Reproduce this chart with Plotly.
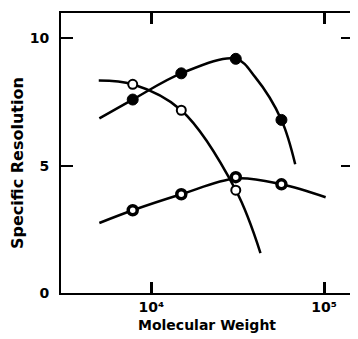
import plotly.graph_objects as go

# Curve A (filled circles)
a_curve_mw = [5000, 7800, 14900, 30800, 40000, 56600, 68000]
a_curve_sr = [6.86, 7.6, 8.63, 9.2, 8.47, 6.8, 5.06]
a_pts_mw = [7800, 14900, 30800, 56600]
a_pts_sr = [7.6, 8.63, 9.2, 6.8]

# Curve B (open circles)
b_curve_mw = [4960, 7800, 14900, 30800, 42800]
b_curve_sr = [8.35, 8.2, 7.18, 4.04, 1.57]
b_pts_mw = [7800, 14900, 30800]
b_pts_sr = [8.2, 7.18, 4.04]

# Curve C (ring circles)
c_curve_mw = [5000, 7800, 14900, 30800, 56600, 102000]
c_curve_sr = [2.75, 3.25, 3.88, 4.5, 4.27, 3.76]
c_pts_mw = [7800, 14900, 30800, 56600]
c_pts_sr = [3.25, 3.88, 4.55, 4.27]

x_tickvals = [1e4, 1e5]
x_ticktext = ["10⁴", "10⁵"]
y_tickvals = [0, 5, 10]
y_ticktext = ["0", "5", "10"]

fig = go.Figure()
line = dict(color="black", width=2.5, shape="spline", smoothing=1.0)
for mw, sr in [(a_curve_mw, a_curve_sr), (b_curve_mw, b_curve_sr), (c_curve_mw, c_curve_sr)]:
    fig.add_trace(go.Scatter(x=mw, y=sr, mode="lines", line=line, hoverinfo="skip"))

fig.add_trace(go.Scatter(x=a_pts_mw, y=a_pts_sr, mode="markers",
                         marker=dict(symbol="circle", size=11, color="black",
                                     line=dict(color="black", width=1))))
fig.add_trace(go.Scatter(x=b_pts_mw, y=b_pts_sr, mode="markers",
                         marker=dict(symbol="circle", size=9, color="white",
                                     line=dict(color="black", width=2))))
fig.add_trace(go.Scatter(x=c_pts_mw, y=c_pts_sr, mode="markers",
                         marker=dict(symbol="circle", size=9, color="white",
                                     line=dict(color="black", width=3.5))))

font = dict(family="DejaVu Sans, sans-serif", size=14, color="black", weight="bold")
xtfont = dict(family="DejaVu Sans, sans-serif", size=14, color="black", weight="bold")
ytfont = dict(family="DejaVu Sans, sans-serif", size=16, color="black", weight="bold")

# page body adds an 8px margin, so the figure is slightly smaller than the window
fig.update_layout(
    width=350, height=331,
    margin=dict(l=53, r=3, t=4, b=46),
    paper_bgcolor="white", plot_bgcolor="white",
    showlegend=False,
    font=font,
    xaxis=dict(type="log", range=[3.477, 5.167], tickvals=x_tickvals, ticktext=x_ticktext,
               ticks="inside", ticklen=11, tickwidth=2.5, tickcolor="black",
               showline=True, linecolor="black", linewidth=2, mirror="ticks",
               showgrid=False, zeroline=False, ticklabelstandoff=0,
               tickfont=dict(family="DejaVu Sans, sans-serif", size=14, color="black", weight="bold")),
    yaxis=dict(range=[0, 11.0], tickvals=y_tickvals, ticktext=y_ticktext,
               ticks="inside", ticklen=12, tickwidth=2, tickcolor="black",
               showline=True, linecolor="black", linewidth=2, mirror="ticks",
               showgrid=False, zeroline=False, ticklabelstandoff=7,
               tickfont=font),
    annotations=[
        dict(text="Molecular Weight", xref="paper", yref="paper", x=0.5, y=0,
             xanchor="center", yanchor="middle", yshift=-32, showarrow=False, font=xtfont),
        dict(text="Specific Resolution", xref="paper", yref="paper", x=0, y=0.5,
             xanchor="center", yanchor="middle", xshift=-44, yshift=-10, textangle=-90,
             showarrow=False, font=ytfont),
    ],
)

fig.write_html("out.html")
